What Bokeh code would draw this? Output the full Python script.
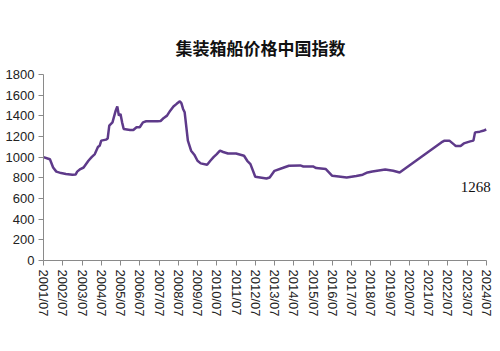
import math
from bokeh.plotting import figure
from bokeh.models import FixedTicker, Label, Range1d
from bokeh.embed import file_html
from bokeh.resources import INLINE

title_text = "集装箱船价格中国指数"
months = [
    "2001-07", "2001-10", "2001-11", "2002-01", "2002-03", "2002-06", "2002-09",
    "2003-01", "2003-03", "2003-04", "2003-06", "2003-08", "2003-11",
    "2004-01", "2004-03", "2004-05", "2004-06", "2004-07", "2004-10", "2004-11", "2004-12",
    "2005-02", "2005-04", "2005-05", "2005-06", "2005-07", "2005-08", "2005-09",
    "2006-01", "2006-03", "2006-05", "2006-07", "2006-09", "2006-11",
    "2007-06", "2007-08", "2007-10", "2007-12",
    "2008-02", "2008-04", "2008-06", "2008-08", "2008-09", "2008-10", "2008-11",
    "2009-01", "2009-03", "2009-05", "2009-07", "2009-09",
    "2010-01", "2010-03", "2010-05", "2010-07", "2010-09", "2010-11",
    "2011-02", "2011-07", "2011-12",
    "2012-02", "2012-04", "2012-07",
    "2013-02", "2013-04", "2013-07", "2013-12",
    "2014-04", "2014-11", "2015-01", "2015-07", "2015-09",
    "2016-03", "2016-07", "2016-11", "2017-04", "2017-10",
    "2018-02", "2018-05", "2018-08", "2019-04", "2019-09", "2020-01",
    "2022-03", "2022-05", "2022-08", "2022-11", "2022-12",
    "2023-03", "2023-05", "2023-09", "2023-11", "2023-12",
    "2024-03", "2024-05", "2024-07",
]
index_values = [
    1000, 985, 980, 900, 860, 846, 838,
    830, 832, 860, 885, 900, 965,
    1000, 1030, 1100, 1110, 1160, 1170, 1180, 1305,
    1337, 1450, 1490, 1402, 1418, 1337, 1273,
    1263, 1263, 1289, 1289, 1337, 1347,
    1347, 1350, 1380, 1402,
    1450, 1490, 1516, 1541, 1521, 1467, 1434,
    1160, 1063, 1024, 965, 940,
    927, 965, 1000, 1030, 1063, 1050,
    1036, 1036, 1014,
    965, 933, 810,
    794, 803, 868, 895,
    917, 920, 910, 910, 895,
    885, 820, 813, 803, 817,
    830, 852, 862, 881, 868, 852,
    1143, 1160, 1160, 1121, 1108,
    1108, 1133, 1153, 1160, 1240,
    1247, 1255, 1268,
]
tick_labels = ["%d/07" % y for y in range(2001, 2025)]
y_ticks = [0, 200, 400, 600, 800, 1000, 1200, 1400, 1600, 1800]
last_label = "1268"


def to_year(m):
    y, mo = m.split("-")
    return int(y) + (int(mo) - 1) / 12.0


xs = [to_year(m) for m in months]
x_ticks = [int(t[:4]) + 0.5 for t in tick_labels]

p = figure(width=500, height=351, output_backend="svg", toolbar_location=None,
           x_range=Range1d(2001.5, 2024.98), y_range=Range1d(0, 1800),
           min_border_left=43, min_border_right=5, min_border_top=74,
           min_border_bottom=91)
p.outline_line_color = None
p.xgrid.visible = False
p.ygrid.visible = False
p.background_fill_color = "white"
p.border_fill_color = "white"

p.title.text = title_text
p.title.align = "left"
p.title.offset = 132
p.title.standoff = 29
p.title.text_font = "Noto Sans CJK SC"
p.title.text_font_style = "bold"
p.title.text_font_size = "17px"
p.title.text_color = "#111111"

p.line(xs, index_values, line_color="#5E3A8A", line_width=2.5)

p.xaxis.ticker = FixedTicker(ticks=x_ticks)
p.xaxis.bounds = (2001.5, 2024.5)
p.xaxis.major_label_overrides = {t: lab for t, lab in zip(x_ticks, tick_labels)}
p.xaxis.major_label_orientation = -math.pi / 2
p.yaxis.ticker = FixedTicker(ticks=y_ticks)
for ax in (p.xaxis, p.yaxis):
    ax.axis_line_color = "#8a8a8a"
    ax.major_tick_line_color = "#8a8a8a"
    ax.major_tick_out = 5
    ax.major_tick_in = 0
    ax.minor_tick_line_color = None
    ax.major_label_text_font = "Liberation Sans"
    ax.major_label_text_font_size = "13px"
    ax.major_label_text_color = "#222222"
    ax.major_label_standoff = 4

p.add_layout(Label(x=2023.17, y=713, text=last_label, text_align="left",
                   text_baseline="alphabetic", text_font="Liberation Serif",
                   text_font_size="15px", text_color="#111111"))

open("out.html", "w").write(file_html(p, INLINE))
